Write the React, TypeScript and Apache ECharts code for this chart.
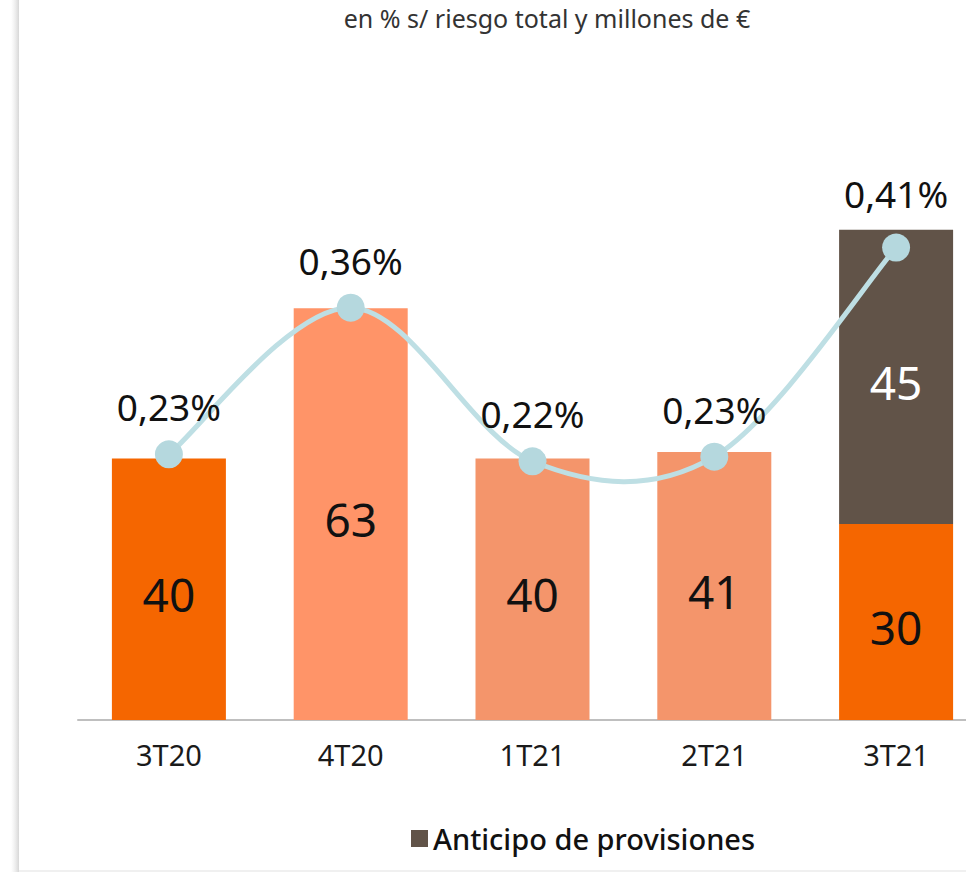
import React, { useEffect, useRef } from "react";
import * as echarts from "echarts";

const categories = ["3T20", "4T20", "1T21", "2T21", "3T21"];
const baseValues = [40, 63, 40, 41, 30];
const baseColors = ["#F56600", "#FF9468", "#F4956B", "#F4956B", "#F56600"];
const anticipoValues: (number | string)[] = ["-", "-", "-", "-", 45];
const ratioValues = [0.23, 0.357, 0.224, 0.228, 0.409];

const FONT = "'Noto Sans', 'Liberation Sans', sans-serif";

export default function App() {
  const ref = useRef<HTMLDivElement>(null);
  useEffect(() => {
    if (!ref.current) return;
    const chart = echarts.init(ref.current, null, { renderer: "svg" });
    const n = ratioValues.length;
    const option: any = {
      animation: false,
      backgroundColor: "#ffffff",
      textStyle: { fontFamily: FONT },
      graphic: [
        {
          type: "rect",
          left: 11,
          top: 0,
          shape: { width: 8, height: 872 },
          style: {
            fill: new echarts.graphic.LinearGradient(0, 0, 1, 0, [
              { offset: 0, color: "rgba(230,230,230,0)" },
              { offset: 1, color: "rgba(215,215,215,1)" },
            ]),
          },
          z: 0,
        },
        {
          type: "rect",
          left: 19,
          top: 870,
          shape: { width: 970, height: 2 },
          style: { fill: "#f0f0f0" },
        },
        {
          type: "text",
          x: 547,
          y: 18,
          style: {
            text: "en % s/ riesgo total y millones de €",
            fontSize: 25,
            fontFamily: FONT,
            fill: "#333",
            align: "center",
            verticalAlign: "middle",
          },
        },
      ],
      legend: {
        data: ["Anticipo de provisiones"],
        left: 406,
        top: 819,
        icon: "rect",
        itemWidth: 17,
        itemHeight: 17,
        itemGap: 8,
        textStyle: { fontSize: 29, color: "#111", fontFamily: FONT, fontWeight: 500 },
      },
      grid: { left: 78, top: 197, width: 909, height: 523, containLabel: false },
      xAxis: {
        type: "category",
        data: categories,
        axisLine: { show: true, lineStyle: { color: "#BFBFBF", width: 2 } },
        axisTick: { show: false },
        axisLabel: { fontSize: 29, color: "#1a1a1a", margin: 20, fontFamily: FONT },
      },
      yAxis: [
        { type: "value", min: 0, max: 80, show: false, splitLine: { show: false } },
        { type: "value", min: 0, max: 0.4528, show: false, splitLine: { show: false } },
      ],
      series: [
        {
          name: "Base",
          type: "bar",
          stack: "total",
          barWidth: 114,
          data: baseValues.map((v, i) => ({ value: v, itemStyle: { color: baseColors[i] } })),
          label: {
            show: true,
            position: "inside",
            fontSize: 46,
            color: "#111",
            offset: [0, 5],
            fontFamily: FONT,
          },
          z: 2,
        },
        {
          name: "Anticipo de provisiones",
          type: "bar",
          stack: "total",
          barWidth: 114,
          data: anticipoValues,
          itemStyle: { color: "#615348" },
          label: {
            show: true,
            position: "inside",
            fontSize: 46,
            color: "#ffffff",
            offset: [0, 5],
            fontFamily: FONT,
          },
          z: 2,
        },
        {
          name: "Curva",
          type: "custom",
          yAxisIndex: 1,
          clip: false,
          z: 5,
          data: ratioValues.map((v, i) => [i, v]),
          encode: { x: 0, y: 1 },
          renderItem: (params: any, api: any) => {
            const i = params.dataIndex;
            if (i >= n - 1) return null;
            const p = (k: number) => {
              const kk = Math.max(0, Math.min(n - 1, k));
              return api.coord([kk, ratioValues[kk]]);
            };
            const p0 = p(i - 1);
            const p1 = p(i);
            const p2 = p(i + 1);
            const p3 = p(i + 2);
            const t = 1 / 6;
            return {
              type: "bezierCurve",
              shape: {
                x1: p1[0],
                y1: p1[1],
                cpx1: p1[0] + (p2[0] - p0[0]) * t,
                cpy1: p1[1] + (p2[1] - p0[1]) * t,
                cpx2: p2[0] - (p3[0] - p1[0]) * t,
                cpy2: p2[1] - (p3[1] - p1[1]) * t,
                x2: p2[0],
                y2: p2[1],
              },
              style: { stroke: "#BEDFE4", lineWidth: 5, fill: null },
            };
          },
        },
        {
          name: "Ratio",
          type: "scatter",
          yAxisIndex: 1,
          symbol: "circle",
          symbolSize: 28,
          z: 6,
          itemStyle: { color: "#B5D8DE", opacity: 1 },
          data: ratioValues.map((v, i) =>
            i === n - 1 ? { value: v, label: { distance: 22 } } : v
          ),
          label: {
            show: true,
            position: "top",
            distance: 15,
            fontSize: 37,
            color: "#111",
            fontFamily: FONT,
            formatter: (p: any) => p.value.toFixed(2).replace(".", ",") + "%",
          },
        },
      ],
    };
    chart.setOption(option);
    return () => chart.dispose();
  }, []);
  return (
    <div
      style={{
        position: "fixed",
        left: 0,
        top: 0,
        width: 966,
        height: 872,
        overflow: "hidden",
        background: "#fff",
      }}
    >
      <div ref={ref} style={{ width: 990, height: 872 }} />
    </div>
  );
}
